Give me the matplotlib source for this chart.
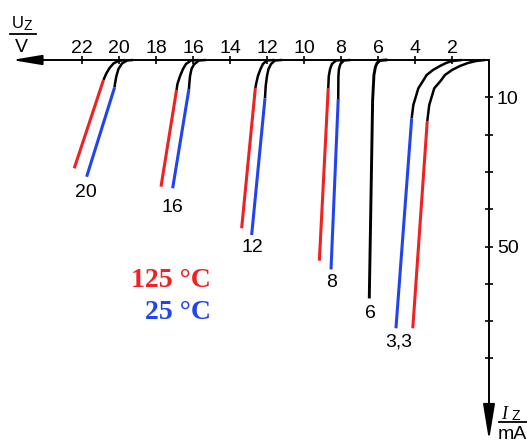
import matplotlib
matplotlib.use('Agg')
import matplotlib.pyplot as plt
from matplotlib.lines import Line2D

plt.rcParams['font.family'] = ['Liberation Sans', 'DejaVu Sans']

RED = '#ee2222'
BLUE = '#2244ee'

# Z-diode curves, U_Z in V, I_Z in mA (last segment = coloured part)
u_20_hot = [19.68, 20.05, 20.30, 20.51, 20.70, 20.84, 22.42]
i_20_hot = [0.0, 0.27, 0.94, 2.14, 3.75, 5.36, 29.04]
u_20_cold = [19.24, 19.57, 19.84, 20.03, 20.14, 20.22, 20.24, 21.75]
i_20_cold = [0.0, 0.13, 0.94, 2.41, 4.29, 6.43, 7.37, 31.30]

u_16_hot = [15.73, 16.11, 16.38, 16.54, 16.70, 16.84, 16.89, 17.73]
i_16_hot = [0.0, 0.13, 1.07, 2.41, 4.29, 6.43, 8.04, 33.97]
u_16_cold = [15.30, 15.68, 15.95, 16.08, 16.16, 16.20, 16.22, 17.10]
i_16_cold = [0.0, 0.13, 1.21, 2.41, 4.29, 6.43, 7.77, 34.40]

u_12_hot = [11.62, 12.00, 12.22, 12.35, 12.49, 12.59, 12.63, 13.37]
i_12_hot = [0.0, 0.13, 1.07, 2.41, 4.29, 6.43, 7.51, 45.12]
u_12_cold = [11.19, 11.57, 11.78, 11.92, 12.00, 12.07, 12.11, 12.83]
i_12_cold = [0.0, 0.13, 1.07, 2.41, 4.29, 6.97, 10.27, 46.92]

u_8_hot = [7.95, 8.27, 8.49, 8.59, 8.66, 8.69, 9.17]
i_8_hot = [0.0, 0.13, 1.07, 2.41, 4.29, 7.51, 53.81]
u_8_cold = [7.51, 7.84, 8.03, 8.11, 8.14, 8.15, 8.54]
i_8_cold = [0.0, 0.13, 1.07, 2.41, 4.29, 10.46, 56.14]

u_6 = [5.57, 5.89, 6.05, 6.14, 6.22, 6.29, 6.47]
i_6 = [0.0, 0.13, 0.80, 1.88, 4.02, 10.72, 63.54]

u_33_cold = [1.46, 2.00, 2.32, 2.65, 3.03, 3.37, 3.57, 3.82, 4.09, 4.18, 5.03]
i_33_cold = [0.0, 0.27, 0.80, 1.61, 2.68, 4.02, 5.63, 7.59, 12.06, 15.63, 71.93]
u_33_hot = [0.22, 0.70, 1.14, 1.57, 2.00, 2.38, 2.62, 2.96, 3.23, 3.34, 4.12]
i_33_hot = [0.0, 0.27, 0.80, 1.61, 2.68, 4.02, 5.63, 7.59, 12.06, 16.52, 71.93]

curve_labels = ['20', '16', '12', '8', '6', '3,3']
label_u = [21.80, 17.14, 12.81, 8.52, 6.43, 4.90]
label_i = [36.65, 40.67, 51.39, 60.94, 69.17, 76.86]

u_ticks = [22, 20, 18, 16, 14, 12, 10, 8, 6, 4, 2]
i_ticks = [10, 20, 30, 40, 50, 60, 70, 80]
i_ticklabels = [10, 50]

curves = [
    (u_20_hot, i_20_hot, RED), (u_20_cold, i_20_cold, BLUE),
    (u_16_hot, i_16_hot, RED), (u_16_cold, i_16_cold, BLUE),
    (u_12_hot, i_12_hot, RED), (u_12_cold, i_12_cold, BLUE),
    (u_8_hot, i_8_hot, RED), (u_8_cold, i_8_cold, BLUE),
    (u_6, i_6, None),
    (u_33_cold, i_33_cold, BLUE), (u_33_hot, i_33_hot, RED),
]

W, H = 527, 442
fig = plt.figure(figsize=(W / 100, H / 100), dpi=100)
ax = fig.add_axes([0, 0, 1, 1])
ax.set_xlim(489 / 18.5, (489 - W) / 18.5)
ax.set_ylim((H - 60) / 3.73, -60 / 3.73)
ax.axis('off')

for u, i, col in curves:
    if col is None:
        ax.plot(u, i, color='black', lw=2.1, solid_joinstyle='round')
        continue
    ax.plot(u[:-1], i[:-1], color='black', lw=1.8, solid_joinstyle='round',
            solid_capstyle='butt')
    ax.plot(u[-2:], i[-2:], color=col, lw=2.2, solid_capstyle='butt')

# axes with arrows
ax.annotate('', xy=(25.8, 0), xytext=(0, 0),
            arrowprops=dict(arrowstyle='-|>,head_length=1.8,head_width=0.3',
                            lw=1.4, color='black', shrinkA=0, shrinkB=0,
                            mutation_scale=10))
ax.annotate('', xy=(0, 102.0), xytext=(0, 0),
            arrowprops=dict(arrowstyle='-|>,head_length=2.2,head_width=0.36',
                            lw=1.4, color='black', shrinkA=0, shrinkB=0,
                            mutation_scale=10))
ax.plot(u_ticks, [0] * len(u_ticks), ls='none', marker='|', ms=6, mew=1.2,
        color='black')
ax.plot([0] * len(i_ticks), i_ticks, ls='none', marker='_', ms=6, mew=1.2,
        color='black')

for v in u_ticks:
    ax.text(v, -1.96, str(v), ha='center', va='baseline', fontsize=14)
for v in i_ticklabels:
    ax.text(-0.43, v + 1.7, str(v), ha='left', va='baseline', fontsize=14)

for s, u, i in zip(curve_labels, label_u, label_i):
    ax.text(u, i, s, ha='center', va='baseline', fontsize=14)

# temperature legend
ax.text(15.03, 60.8, '125 °C', color=RED, ha='right', va='baseline',
        fontsize=20, fontweight='bold', family='Liberation Serif')
ax.text(15.03, 69.4, '25 °C', color=BLUE, ha='right', va='baseline',
        fontsize=20, fontweight='bold', family='Liberation Serif')


def fx(px):
    return px / W


def fy(py):
    return 1 - py / H


# axis titles as fractions
fig.text(fx(12), fy(28.3), 'U', fontsize=12, va='baseline')
fig.text(fx(23.5), fy(30.5), 'Z', fontsize=10, va='baseline')
fig.add_artist(Line2D([fx(10), fx(36)], [fy(34.3)] * 2, lw=1.3, color='black'))
fig.text(fx(21), fy(51.7), 'V', fontsize=14, ha='center', va='baseline')

fig.text(fx(501), fy(419.3), 'I', fontsize=13, va='baseline',
         family='Liberation Serif', style='italic')
fig.text(fx(512), fy(420.5), 'Z', fontsize=10, va='baseline')
fig.add_artist(Line2D([fx(499), fx(527)], [fy(421.7)] * 2, lw=1.3, color='black'))
fig.text(fx(498), fy(439), 'mA', fontsize=14, va='baseline')

fig.savefig('out.png', dpi=100, facecolor='white')
